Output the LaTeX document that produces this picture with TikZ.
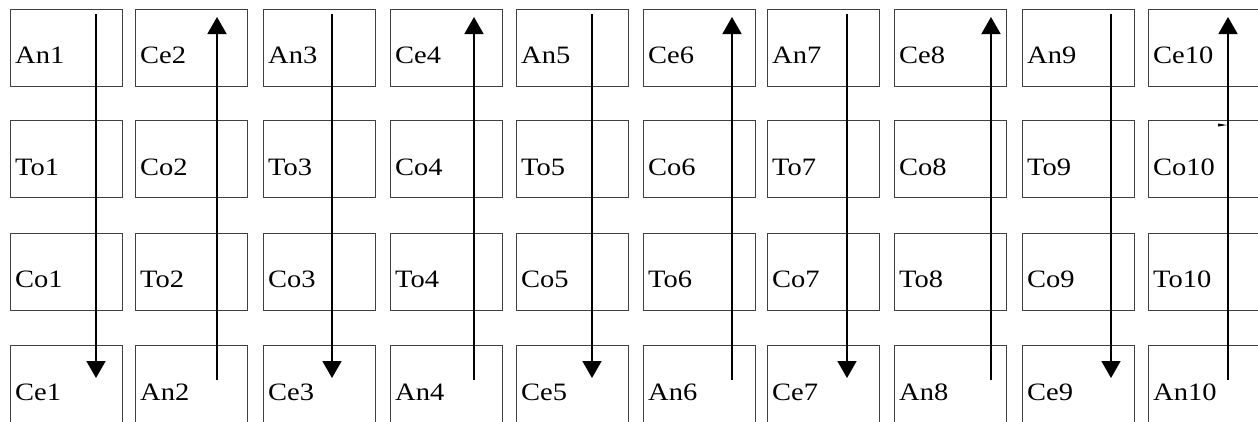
\documentclass[tikz,border=0pt]{standalone}
\usepackage{fontspec}
\setmainfont{Liberation Serif}
\newfontfamily\lblfont[FakeStretch=1.14]{Liberation Serif}
\usetikzlibrary{arrows.meta}
\begin{document}
\begin{tikzpicture}[x=1pt,y=-1pt,
  cell/.style={draw=black!75,line width=1.1pt,minimum width=112pt,minimum height=77pt,inner sep=0pt,anchor=north west},
  lbl/.style={anchor=base west,inner sep=0pt,font=\lblfont\fontsize{25}{29}\selectfont},
  flow/.style={line width=1.8pt,-{Triangle[length=17pt,width=19pt]}}]
\useasboundingbox (0,0) rectangle (1258,421);
\fill[white] (0,0) rectangle (1258,421);
% columns: left x, arrow x
\def\lefts{{10,135,263,390,516,643,767,894,1022,1148}}
\def\arrx{{96,217,332,474,592,732,847,991,1111,1228}}
\def\tops{{8.5,120,232.5,345}}
\foreach \c/\ra/\rb/\rc/\rd in {1/An1/To1/Co1/Ce1,2/Ce2/Co2/To2/An2,3/An3/To3/Co3/Ce3,4/Ce4/Co4/To4/An4,5/An5/To5/Co5/Ce5,6/Ce6/Co6/To6/An6,7/An7/To7/Co7/Ce7,8/Ce8/Co8/To8/An8,9/An9/To9/Co9/Ce9,10/Ce10/Co10/To10/An10}{
  \pgfmathsetmacro{\lx}{\lefts[\c-1]}
  \foreach \r/\t in {1/\ra,2/\rb,3/\rc,4/\rd}{
    \pgfmathsetmacro{\ty}{\tops[\r-1]}
    \node[cell] (b-\r-\c) at (\lx,\ty) {};
    \node[lbl] (t-\r-\c) at ([shift={(5pt,-55pt)}]b-\r-\c.north west) {\t};
  }
}
% arrows
\foreach \c in {1,3,5,7,9}{
  \pgfmathsetmacro{\ax}{\arrx[\c-1]}
  \coordinate (s-\c) at (\ax,14);
  \coordinate (e-\c) at (\ax,378);
  \draw[flow] (s-\c) -- (e-\c);
}
\foreach \c in {2,4,6,8,10}{
  \pgfmathsetmacro{\ax}{\arrx[\c-1]}
  \coordinate (s-\c) at (\ax,380);
  \coordinate (e-\c) at (\ax,17);
  \draw[flow] (s-\c) -- (e-\c);
}
% small stray mark near Co10
\coordinate (m) at (1227,125);
\fill (m) -- ++(-9,-1.5) -- ++(0,3) -- cycle;
\end{tikzpicture}
\end{document}
